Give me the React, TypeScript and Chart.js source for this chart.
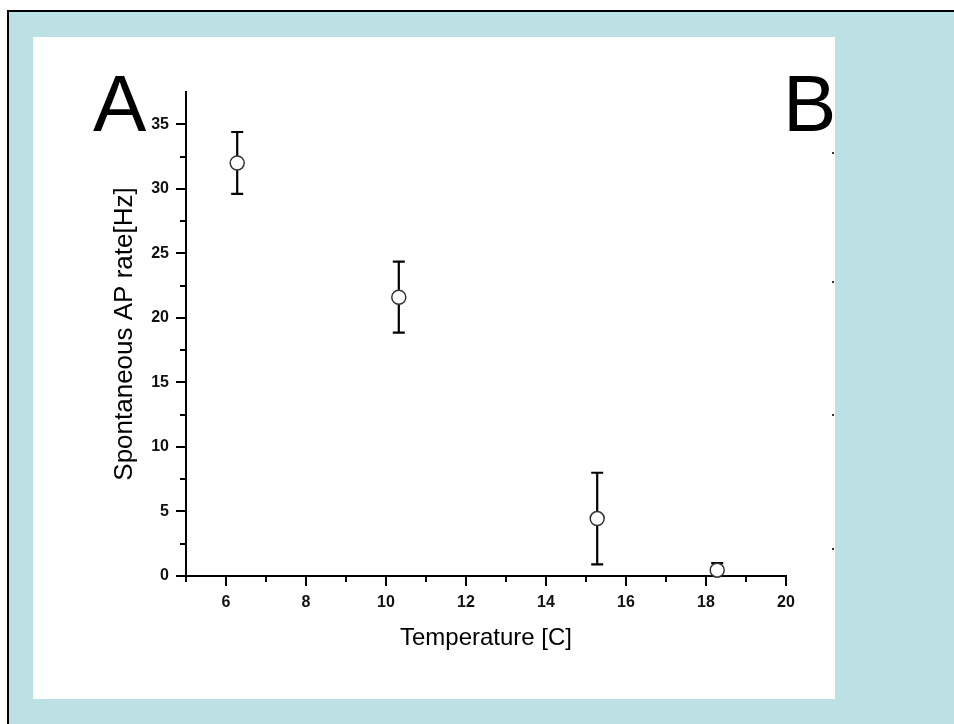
import React, { useEffect, useRef } from 'react';
import { Chart, registerables } from 'chart.js';

Chart.register(...registerables);

// ---- data ----
const temperatures = [6.28, 10.32, 15.28, 18.28];
const apRates = [32.0, 21.6, 4.45, 0.45];
const apRateErrors = [2.4, 2.75, 3.55, 0.55];
const xTickLabels = [6, 8, 10, 12, 14, 16, 18, 20];
const yTickLabels = [0, 5, 10, 15, 20, 25, 30, 35];
const xTitle = 'Temperature [C]';
const yTitle = 'Spontaneous AP rate[Hz]';
const panelLetters = ['A', 'B'];

const FONT = "'Liberation Sans', Arial, Helvetica, sans-serif";

const errorBarPlugin = {
  id: 'errorBars',
  beforeDatasetsDraw(chart: any) {
    const { ctx } = chart;
    const xs = chart.scales.x;
    const ys = chart.scales.y;
    ctx.save();
    ctx.strokeStyle = '#000';
    ctx.lineWidth = 2.2;
    temperatures.forEach((t, i) => {
      const x = xs.getPixelForValue(t);
      const yHi = ys.getPixelForValue(apRates[i] + apRateErrors[i]);
      const yLo = ys.getPixelForValue(Math.max(0, apRates[i] - apRateErrors[i]));
      ctx.beginPath();
      ctx.moveTo(x, yHi);
      ctx.lineTo(x, yLo);
      ctx.moveTo(x - 6, yHi);
      ctx.lineTo(x + 6, yHi);
      ctx.moveTo(x - 6, yLo);
      ctx.lineTo(x + 6, yLo);
      ctx.stroke();
    });
    ctx.restore();
  },
};

const tickMarksPlugin = {
  id: 'tickMarks',
  beforeDatasetsDraw(chart: any) {
    const { ctx, chartArea } = chart;
    const xs = chart.scales.x;
    const ys = chart.scales.y;
    ctx.save();
    ctx.strokeStyle = '#000';
    ctx.lineWidth = 2;
    ctx.beginPath();
    ys.ticks.forEach((tk: any) => {
      if (tk.value >= ys.max) return;
      const y = Math.round(ys.getPixelForValue(tk.value));
      const len = yTickLabels.includes(tk.value) ? 10 : 6;
      ctx.moveTo(chartArea.left - len, y);
      ctx.lineTo(chartArea.left, y);
    });
    xs.ticks.forEach((tk: any) => {
      const x = Math.round(xs.getPixelForValue(tk.value));
      const len = xTickLabels.includes(tk.value) ? 10 : 6;
      ctx.moveTo(x, chartArea.bottom);
      ctx.lineTo(x, chartArea.bottom + len);
    });
    ctx.stroke();
    ctx.restore();
  },
};

const panelLetterPlugin = {
  id: 'panelLetters',
  afterDraw(chart: any) {
    const { ctx, chartArea } = chart;
    ctx.save();
    ctx.fillStyle = '#000';
    ctx.font = `80px ${FONT}`;
    ctx.textBaseline = 'alphabetic';
    ctx.textAlign = 'left';
    ctx.fillText(panelLetters[0], chartArea.left - 93, chartArea.top + 39);
    ctx.fillText(panelLetters[1], chartArea.right - 3, chartArea.top + 39);
    // fragments of panel B's axis ticks at the right edge
    ctx.fillStyle = '#333';
    [115, 244, 377, 511].forEach((y) => ctx.fillRect(chart.width - 3, y, 2, 2));
    ctx.restore();
  },
};

function ScatterChart() {
  const ref = useRef<HTMLCanvasElement>(null);
  useEffect(() => {
    if (!ref.current) return;
    const chart = new Chart(ref.current, {
      type: 'scatter',
      data: {
        datasets: [
          {
            data: temperatures.map((t, i) => ({ x: t, y: apRates[i] })),
            pointRadius: 7,
            pointHoverRadius: 7,
            pointBackgroundColor: '#ffffff',
            pointBorderColor: '#333333',
            pointBorderWidth: 1.5,
            showLine: false,
            clip: false as any,
          },
        ],
      },
      options: {
        animation: false,
        responsive: false,
        devicePixelRatio: 1,
        events: [],
        layout: { padding: { top: 55, right: 49, bottom: 46.6, left: 0 } },
        plugins: { legend: { display: false }, tooltip: { enabled: false } },
        scales: {
          x: {
            type: 'linear',
            min: 5,
            max: 20,
            ticks: {
              stepSize: 1,
              autoSkip: false,
              maxRotation: 0,
              padding: 7,
              color: '#111',
              font: { family: FONT, size: 16, weight: 'bold' },
              callback: (v: any) => (xTickLabels.includes(v) ? String(v) : ''),
            },
            grid: {
              display: true,
              drawOnChartArea: false,
              drawTicks: true,
              tickLength: 10,
              tickColor: 'rgba(0,0,0,0)',
            },
            border: { display: true, color: '#000', width: 2 },
            title: {
              display: true,
              text: xTitle,
              color: '#000',
              font: { family: FONT, size: 24, lineHeight: 1.2 },
              padding: { top: 0, bottom: 0 },
            },
            afterFit: (s: any) => {
              s.height = 76.4;
            },
          },
          y: {
            type: 'linear',
            min: 0,
            max: 37.5,
            ticks: {
              stepSize: 2.5,
              autoSkip: false,
              padding: 7,
              color: '#111',
              font: { family: FONT, size: 16, weight: 'bold' },
              callback: (v: any) => (yTickLabels.includes(v) ? String(v) : ''),
            },
            grid: {
              display: true,
              drawOnChartArea: false,
              drawTicks: true,
              tickLength: 10,
              tickColor: 'rgba(0,0,0,0)',
            },
            border: { display: true, color: '#000', width: 2 },
            title: {
              display: true,
              text: yTitle,
              color: '#000',
              font: { family: FONT, size: 26, lineHeight: 1.2 },
              padding: { top: 76, bottom: 0 },
            },
            afterFit: (s: any) => {
              s.width = 153;
            },
          },
        },
      },
      plugins: [tickMarksPlugin, errorBarPlugin, panelLetterPlugin],
    });
    return () => chart.destroy();
  }, []);
  return (
    <canvas
      ref={ref}
      width={802}
      height={662}
      style={{ display: 'block', width: 802, height: 662, background: '#ffffff' }}
    />
  );
}

export default function App() {
  return (
    <div
      style={{
        position: 'absolute',
        left: 7,
        top: 10,
        width: 947,
        height: 714,
        boxSizing: 'border-box',
        borderLeft: '2px solid #000',
        borderTop: '2px solid #000',
        background: '#bce0e3',
        overflow: 'hidden',
      }}
    >
      <div style={{ position: 'absolute', left: 24, top: 25 }}>
        <ScatterChart />
      </div>
    </div>
  );
}
